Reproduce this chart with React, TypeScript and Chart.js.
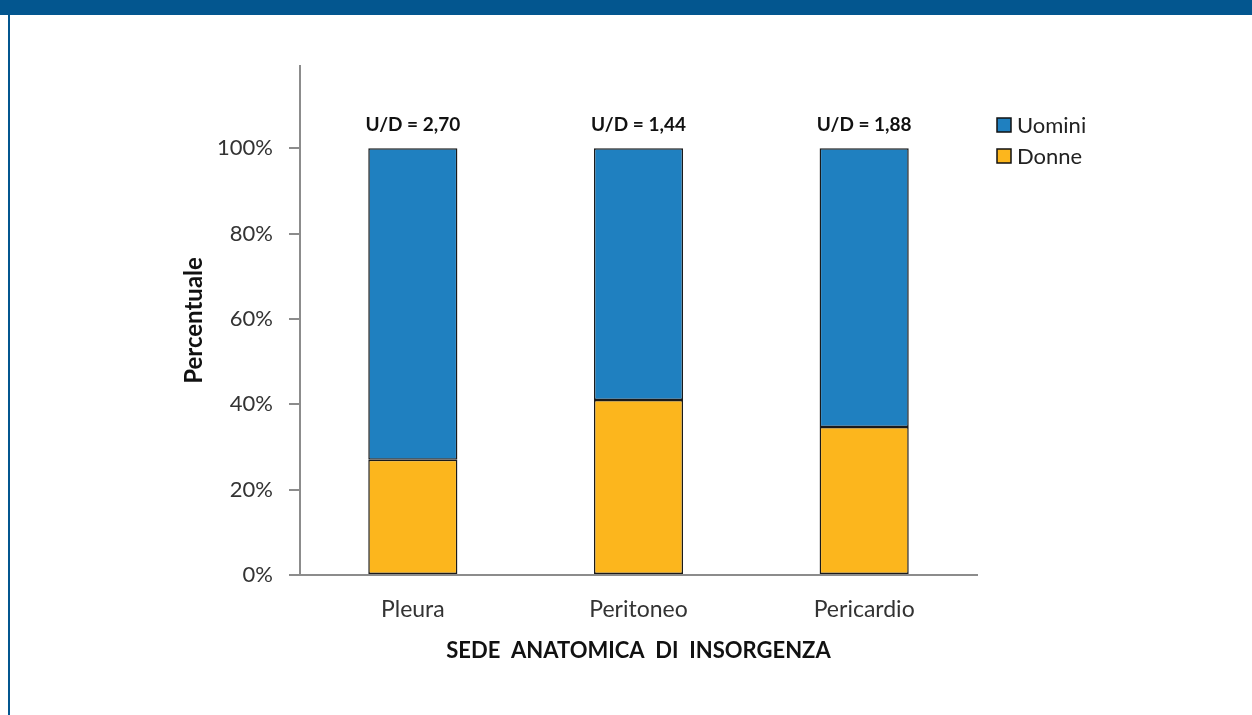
import React, { useEffect, useRef } from "react";
import { Chart, registerables } from "chart.js";

Chart.register(...registerables);

const categories = ["Pleura", "Peritoneo", "Pericardio"];
const donne = [27.0, 41.0, 34.7];
const uomini = [73.0, 59.0, 65.3];
const ratioLabels = ["U/D = 2,70", "U/D = 1,44", "U/D = 1,88"];
const yTicks = [0, 20, 40, 60, 80, 100];
const seriesNames = ["Donne", "Uomini"];
const seriesColors = ["#FCB61D", "#1F80C0"];
const xTitle = "SEDE  ANATOMICA  DI  INSORGENZA";
const yTitle = "Percentuale";

const FONT = "Lato, 'Open Sans', sans-serif";

const annotationPlugin = {
  id: "udLabels",
  afterDatasetsDraw(chart: any) {
    const ctx = chart.ctx;
    const topIdx = chart.data.datasets.length - 1;
    const meta = chart.getDatasetMeta(topIdx);
    ctx.save();
    ctx.font = `bold 19px ${FONT}`;
    ctx.fillStyle = "#111111";
    ctx.textAlign = "center";
    ctx.textBaseline = "alphabetic";
    meta.data.forEach((bar: any, i: number) => {
      ctx.fillText(ratioLabels[i], bar.x, bar.y - 17);
    });
    ctx.restore();
  },
};

const legendPlugin = {
  id: "customLegend",
  afterDraw(chart: any) {
    const ctx = chart.ctx;
    const ds = chart.data.datasets.slice().reverse();
    ctx.save();
    ds.forEach((d: any, i: number) => {
      const y = 118 + i * 31;
      ctx.fillStyle = d.backgroundColor;
      ctx.fillRect(997, y, 14, 14);
      ctx.strokeStyle = "#111111";
      ctx.lineWidth = 1.5;
      ctx.strokeRect(997, y, 14, 14);
      ctx.fillStyle = "#222222";
      ctx.font = `22px ${FONT}`;
      ctx.textAlign = "left";
      ctx.textBaseline = "middle";
      ctx.fillText(d.label, 1017, y + 8);
    });
    ctx.restore();
  },
};

export default function App() {
  const ref = useRef<HTMLCanvasElement>(null);

  useEffect(() => {
    if (!ref.current) return;
    const chart = new Chart(ref.current, {
      type: "bar",
      data: {
        labels: categories,
        datasets: [
          {
            label: seriesNames[0],
            data: donne,
            backgroundColor: seriesColors[0],
            borderColor: "#1a1a1a",
            borderWidth: 1.5,
            borderSkipped: false,
          },
          {
            label: seriesNames[1],
            data: uomini,
            backgroundColor: seriesColors[1],
            borderColor: "#1a1a1a",
            borderWidth: 1.5,
            borderSkipped: false,
          },
        ],
      },
      options: {
        animation: false,
        responsive: false,
        devicePixelRatio: 1,
        layout: { padding: { top: 66, right: 275, left: 0, bottom: 0 } },
        datasets: { bar: { categoryPercentage: 1, barPercentage: 0.395 } },
        plugins: { legend: { display: false }, tooltip: { enabled: false } },
        scales: {
          x: {
            stacked: true,
            grid: { display: false, drawTicks: false },
            border: { display: true, color: "#8c8c8c", width: 2 },
            ticks: {
              padding: 21,
              color: "#333333",
              font: { family: FONT, size: 23 },
            },
            title: {
              display: true,
              text: xTitle,
              color: "#111111",
              font: { family: FONT, size: 22, weight: "bold" },
              padding: { top: 0, bottom: 51 },
            },
            afterFit(scale: any) {
              scale.height = 140;
            },
          },
          y: {
            stacked: true,
            min: 0,
            max: 119.3,
            grid: {
              drawOnChartArea: false,
              drawTicks: true,
              tickLength: 11,
              color: "#8c8c8c",
              lineWidth: 2,
            },
            border: { display: true, color: "#8c8c8c", width: 2 },
            ticks: {
              padding: 16,
              color: "#333333",
              font: { family: FONT, size: 22 },
              callback: (v: any) => `${v}%`,
            },
            afterBuildTicks(scale: any) {
              scale.ticks = yTicks.map((v) => ({ value: v }));
            },
            title: {
              display: true,
              text: yTitle,
              color: "#111111",
              font: { family: FONT, size: 24, weight: "bold" },
              padding: { top: 180, bottom: 0 },
            },
            afterFit(scale: any) {
              scale.width = 300;
            },
          },
        },
      },
      plugins: [annotationPlugin, legendPlugin],
    });
    return () => chart.destroy();
  }, []);

  return (
    <div style={{ position: "absolute", left: 0, top: 0, width: 1252, height: 715, background: "#ffffff", overflow: "hidden" }}>
      <canvas ref={ref} width={1252} height={715} style={{ position: "absolute", left: 0, top: 0 }} />
      <div style={{ position: "absolute", left: 0, top: 0, width: 1252, height: 15, background: "#03568F" }} />
      <div style={{ position: "absolute", left: 8, top: 0, width: 2, height: 715, background: "#03568F" }} />
    </div>
  );
}
